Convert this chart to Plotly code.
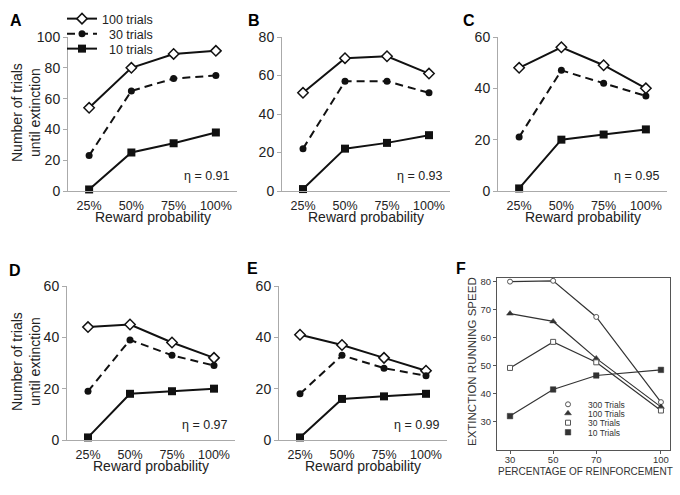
import plotly.graph_objects as go

W, H = 680, 495
FONT = "Liberation Sans, Arial, Helvetica, sans-serif"
TXT = "#222222"

# ---------------- data ----------------
categories = ["25%", "50%", "75%", "100%"]
series_names = ["100 trials", "30 trials", "10 trials"]

A_100 = [54, 80, 89, 91]
A_30 = [23, 65, 73, 75]
A_10 = [1, 25, 31, 38]

B_100 = [51, 69, 70, 61]
B_30 = [22, 57, 57, 51]
B_10 = [1, 22, 25, 29]

C_100 = [48, 56, 49, 40]
C_30 = [21, 47, 42, 37]
C_10 = [1, 20, 22, 24]

D_100 = [44, 45, 38, 32]
D_30 = [19, 39, 33, 29]
D_10 = [1, 18, 19, 20]

E_100 = [41, 37, 32, 27]
E_30 = [18, 33, 28, 25]
E_10 = [1, 16, 17, 18]

eta_labels = ["η = 0.91", "η = 0.93", "η = 0.95", "η = 0.97", "η = 0.99"]
panel_letters = ["A", "B", "C", "D", "E", "F"]

F_x = [30, 50, 70, 100]
F_names = ["300 Trials", "100 Trials", "30 Trials", "10 Trials"]
F_300 = [80, 80.3, 67.4, 37]
F_100 = [68.6, 65.8, 52.6, 35.3]
F_30 = [49.2, 58.5, 51.2, 34]
F_10 = [32, 41.5, 46.5, 48.5]
F_ticks = [30, 50, 70, 100]

# ---------------- layout helpers ----------------
def fx(p):
    return p / W

def fy(p):
    return 1 - p / H

# (x-left px, x-right px, y-bottom px, y-top px, y max, series, show y title)
panels = [
    (68, 237, 191, 37, 100, (A_100, A_30, A_10), True),
    (282, 450, 191, 37, 80, (B_100, B_30, B_10), False),
    (498, 667, 191, 37, 60, (C_100, C_30, C_10), False),
    (67, 235, 440, 286, 60, (D_100, D_30, D_10), True),
    (279, 447, 440, 286, 60, (E_100, E_30, E_10), False),
]
letter_pos = [(16, 20), (254, 20), (469, 20), (15, 270), (252, 268), (461, 268)]

DARK = "#111111"
styles = [
    dict(line=dict(color=DARK, width=2),
         marker=dict(symbol="diamond", size=8, color="white", line=dict(color=DARK, width=1.5))),
    dict(line=dict(color=DARK, width=2, dash="8px,5px"),
         marker=dict(symbol="circle", size=7, color=DARK)),
    dict(line=dict(color=DARK, width=2),
         marker=dict(symbol="square", size=8, color=DARK)),
]

fig = go.Figure()
annotations = []
layout = dict()

legend_y_A = [19, 34, 49]
legend_text_A = ["100 trials", "\u00a0\u00a030 trials", "\u00a0\u00a010 trials"]

for i, (xl, xr, yb, yt, ymax, series, ytitle) in enumerate(panels):
    sfx = "" if i == 0 else str(i + 1)
    xa, ya = "x" + sfx, "y" + sfx
    layout["xaxis" + sfx] = dict(
        domain=[fx(xl), fx(xr)], anchor=ya, type="category",
        categoryorder="array", categoryarray=categories,
        range=[-0.5, 3.5], showline=True, linecolor="#aaaaaa", linewidth=1,
        ticks="", showgrid=False, zeroline=False, ticklabelstandoff=3,
        tickfont=dict(family=FONT, size=12.5, color=TXT),
    )
    layout["yaxis" + sfx] = dict(
        domain=[fy(yb), fy(yt)], anchor=xa, range=[0, ymax], dtick=20,
        showline=True, linecolor="#aaaaaa", linewidth=1, ticks="outside",
        ticklen=4, tickcolor="#aaaaaa", showgrid=False, zeroline=False,
        tickfont=dict(family=FONT, size=14, color=TXT),
    )
    for j, vals in enumerate(series):
        kw = dict(styles[j])
        tr = go.Scatter(x=categories, y=vals, mode="lines+markers", xaxis=xa, yaxis=ya,
                        cliponaxis=False, name=legend_text_A[j], showlegend=(i == 0), **kw)
        if i == 0:
            tr.legend = "legend" if j == 0 else "legend" + str(j + 1)
        fig.add_trace(tr)
    # eta label
    annotations.append(dict(text=eta_labels[i], xref=xa + " domain", yref=ya + " domain",
                            x=0.97, y=0.1, xanchor="right", yanchor="middle", showarrow=False,
                            font=dict(family=FONT, size=12.5, color=TXT)))
    # x title
    annotations.append(dict(text="Reward probability", xref="paper", yref="paper",
                            x=fx((xl + xr) / 2), y=fy(yb + 26), xanchor="center", yanchor="middle",
                            showarrow=False, font=dict(family=FONT, size=14, color=TXT)))
    if ytitle:
        annotations.append(dict(text="Number of trials<br>until extinction", xref="paper", yref="paper",
                                x=fx(26), y=fy((yb + yt) / 2 - 1), xanchor="center", yanchor="middle",
                                textangle=-90, showarrow=False,
                                font=dict(family=FONT, size=14, color=TXT)))

# legends for panel A
for j in range(3):
    key = "legend" if j == 0 else "legend" + str(j + 1)
    layout[key] = dict(x=fx(62), y=fy(legend_y_A[j]), xanchor="left", yanchor="middle",
                       bgcolor="rgba(0,0,0,0)", borderwidth=0,
                       font=dict(family=FONT, size=12.5, color=TXT))

# ---------------- panel F ----------------
FCOL = "#333333"
F_series = [F_300, F_100, F_30, F_10]
F_markers = [
    dict(symbol="circle", size=5, color="white", line=dict(color="#555555", width=1)),
    dict(symbol="triangle-up", size=6, color=FCOL, line=dict(color=FCOL, width=0.5)),
    dict(symbol="square", size=5, color="white", line=dict(color="#555555", width=1)),
    dict(symbol="square", size=5.5, color=FCOL, line=dict(color=FCOL, width=0.5)),
]
layout["xaxis6"] = dict(domain=[fx(497), fx(670)], anchor="y6", range=[23.97, 104.2],
                        tickvals=F_ticks, showline=True, mirror=True, linecolor="#555555",
                        linewidth=1.2, ticks="outside", ticklen=3, tickcolor="#555555",
                        showgrid=False, zeroline=False, ticklabelstandoff=-3,
                        tickfont=dict(family=FONT, size=9.5, color=FCOL))
layout["yaxis6"] = dict(domain=[fy(450), fy(278)], anchor="x6", range=[19.9, 81.3],
                        tickvals=[30, 40, 50, 60, 70, 80], showline=True, mirror=True,
                        linecolor="#555555", linewidth=1.2, ticks="outside", ticklen=3,
                        tickcolor="#555555", showgrid=False, zeroline=False,
                        tickfont=dict(family=FONT, size=9.5, color=FCOL))
for k, vals in enumerate(F_series):
    fig.add_trace(go.Scatter(x=F_x, y=vals, mode="lines", xaxis="x6", yaxis="y6",
                             line=dict(color=FCOL, width=1.2), showlegend=False, hoverinfo="skip"))
F_leg_y = [404.3, 413.3, 422.7, 432.3]
for k, vals in enumerate(F_series):
    key = "legend" + str(4 + k)
    fig.add_trace(go.Scatter(x=F_x, y=vals, mode="markers", xaxis="x6", yaxis="y6",
                             marker=F_markers[k], name=F_names[k], legend=key, cliponaxis=False))
    layout[key] = dict(x=fx(548), y=fy(F_leg_y[k]), xanchor="left", yanchor="middle",
                       bgcolor="rgba(0,0,0,0)", borderwidth=0,
                       font=dict(family=FONT, size=8.5, color=FCOL))

annotations.append(dict(text="EXTINCTION RUNNING SPEED", xref="paper", yref="paper",
                        x=fx(472), y=fy(362), textangle=-90, showarrow=False,
                        xanchor="center", yanchor="middle",
                        font=dict(family=FONT, size=11.5, color=FCOL)))
annotations.append(dict(text="PERCENTAGE OF REINFORCEMENT", xref="paper", yref="paper",
                        x=fx(585), y=fy(471), showarrow=False, xanchor="center", yanchor="middle",
                        font=dict(family=FONT, size=10, color=FCOL)))

for letter, (lx, ly) in zip(panel_letters, letter_pos):
    annotations.append(dict(text="<b>" + letter + "</b>", xref="paper", yref="paper",
                            x=fx(lx), y=fy(ly), xanchor="center", yanchor="middle", showarrow=False,
                            font=dict(family=FONT, size=16, color="#000000")))

fig.update_layout(
    width=W, height=H, margin=dict(l=0, r=0, t=0, b=0, autoexpand=False),
    paper_bgcolor="white", plot_bgcolor="white",
    annotations=annotations, **layout,
)

fig.write_html("out.html", config={"displayModeBar": False},
               post_script="document.body.style.margin='0';document.body.style.padding='0';")
